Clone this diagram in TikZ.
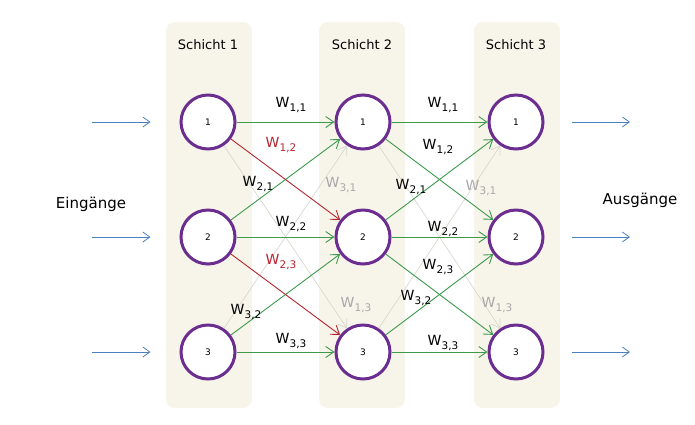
\documentclass[tikz,border=0pt]{standalone}
\usepackage{fontspec}
\setmainfont{DejaVu Sans}
\usetikzlibrary{arrows.meta}
\definecolor{panelbg}{HTML}{F7F4EA}
\definecolor{ringlila}{HTML}{6B2D8F}
\definecolor{gruen}{HTML}{3C9A4C}
\definecolor{rot}{HTML}{B5252F}
\definecolor{grau}{HTML}{D8D8D0}
\definecolor{graulab}{HTML}{A8A8A8}
\definecolor{blau}{HTML}{4A80C2}
\tikzstyle{schicht}=[rectangle,rounded corners=9pt,fill=panelbg,minimum width=86pt,minimum height=386pt]
\tikzstyle{neuron}=[circle,draw=ringlila,line width=3pt,fill=white,minimum size=54pt,font=\fontsize{9}{10}\selectfont]
\tikzstyle{titel}=[font=\fontsize{13}{15}\selectfont]
\tikzstyle{seite}=[font=\fontsize{15}{17}\selectfont]
\tikzstyle{kante}=[-{Straight Barb[length=8pt,width=11pt]},line width=0.9pt,draw=gruen]
\tikzstyle{rotkante}=[kante,draw=rot]
\tikzstyle{graukante}=[kante,draw=grau,line width=0.7pt]
\tikzstyle{io}=[-{Straight Barb[length=7pt,width=10pt]},line width=0.8pt,draw=blau]
\tikzstyle{lab}=[font=\fontsize{14}{16}\selectfont,inner sep=1pt]
\newcommand{\gew}[2]{W\kern0.3pt\raisebox{-0.45ex}{\fontsize{10.5}{11}\selectfont #1,#2}}

\begin{document}
\begin{tikzpicture}[x=1pt,y=-1pt]
\useasboundingbox (0,0) rectangle (695,424);

% Schichten
\node[schicht] (p1) at (209,215) {};
\node[schicht] (p2) at (362,215) {};
\node[schicht] (p3) at (517,215) {};
\node[titel] (t1) at (208,45) {Schicht 1};
\node[titel] (t2) at (362,45) {Schicht 2};
\node[titel] (t3) at (516,45) {Schicht 3};

% Neuronen
\node[neuron] (a1) at (208,122) {1};
\node[neuron] (a2) at (208,237) {2};
\node[neuron] (a3) at (208,352) {3};
\node[neuron] (b1) at (363,122) {1};
\node[neuron] (b2) at (363,237) {2};
\node[neuron] (b3) at (363,352) {3};
\node[neuron] (c1) at (516,122) {1};
\node[neuron] (c2) at (516,237) {2};
\node[neuron] (c3) at (516,352) {3};

% Ein- und Ausgaenge
\node[seite] (ein) at (91,204) {Eingänge};
\node[seite] (aus) at (640,200) {Ausgänge};
\coordinate (in1) at (92,122);
\coordinate (in2) at (92,237);
\coordinate (in3) at (92,352);
\coordinate (out1) at (630,122);
\coordinate (out2) at (630,237);
\coordinate (out3) at (630,352);
\draw[io,shorten >=29pt] (in1) -- (a1);
\draw[io,shorten >=29pt] (in2) -- (a2);
\draw[io,shorten >=29pt] (in3) -- (a3);
\draw[io,shorten <=27pt] (c1) -- (out1);
\draw[io,shorten <=27pt] (c2) -- (out2);
\draw[io,shorten <=27pt] (c3) -- (out3);

% Gewichte Schicht 1 -> 2
\draw[graukante] (a1) -- (b3);
\draw[graukante] (a3) -- (b1);
\draw[kante] (a1) -- (b1);
\draw[kante] (a2) -- (b1);
\draw[kante] (a2) -- (b2);
\draw[kante] (a3) -- (b2);
\draw[kante] (a3) -- (b3);
\draw[rotkante] (a1) -- (b2);
\draw[rotkante] (a2) -- (b3);

% Gewichte Schicht 2 -> 3
\draw[graukante] (b1) -- (c3);
\draw[graukante] (b3) -- (c1);
\draw[kante] (b1) -- (c1);
\draw[kante] (b1) -- (c2);
\draw[kante] (b2) -- (c1);
\draw[kante] (b2) -- (c2);
\draw[kante] (b2) -- (c3);
\draw[kante] (b3) -- (c2);
\draw[kante] (b3) -- (c3);

% Beschriftungen
\node[lab] (w11a) at (291,105) {\gew{1}{1}};
\node[lab,text=rot] (w12a) at (281,145) {\gew{1}{2}};
\node[lab] (w21a) at (258,184) {\gew{2}{1}};
\node[lab,text=graulab] (w31a) at (341,185) {\gew{3}{1}};
\node[lab] (w22a) at (291,224) {\gew{2}{2}};
\node[lab,text=rot] (w23a) at (281,262) {\gew{2}{3}};
\node[lab] (w32a) at (246,312) {\gew{3}{2}};
\node[lab,text=graulab] (w13a) at (356,305) {\gew{1}{3}};
\node[lab] (w33a) at (291,341) {\gew{3}{3}};

\node[lab] (w11b) at (443,105) {\gew{1}{1}};
\node[lab] (w12b) at (438,147) {\gew{1}{2}};
\node[lab] (w21b) at (411,187) {\gew{2}{1}};
\node[lab,text=graulab] (w31b) at (481,188) {\gew{3}{1}};
\node[lab] (w22b) at (443,229) {\gew{2}{2}};
\node[lab] (w23b) at (438,267) {\gew{2}{3}};
\node[lab] (w32b) at (416,298) {\gew{3}{2}};
\node[lab,text=graulab] (w13b) at (497,305) {\gew{1}{3}};
\node[lab] (w33b) at (443,343) {\gew{3}{3}};

\end{tikzpicture}
\end{document}
